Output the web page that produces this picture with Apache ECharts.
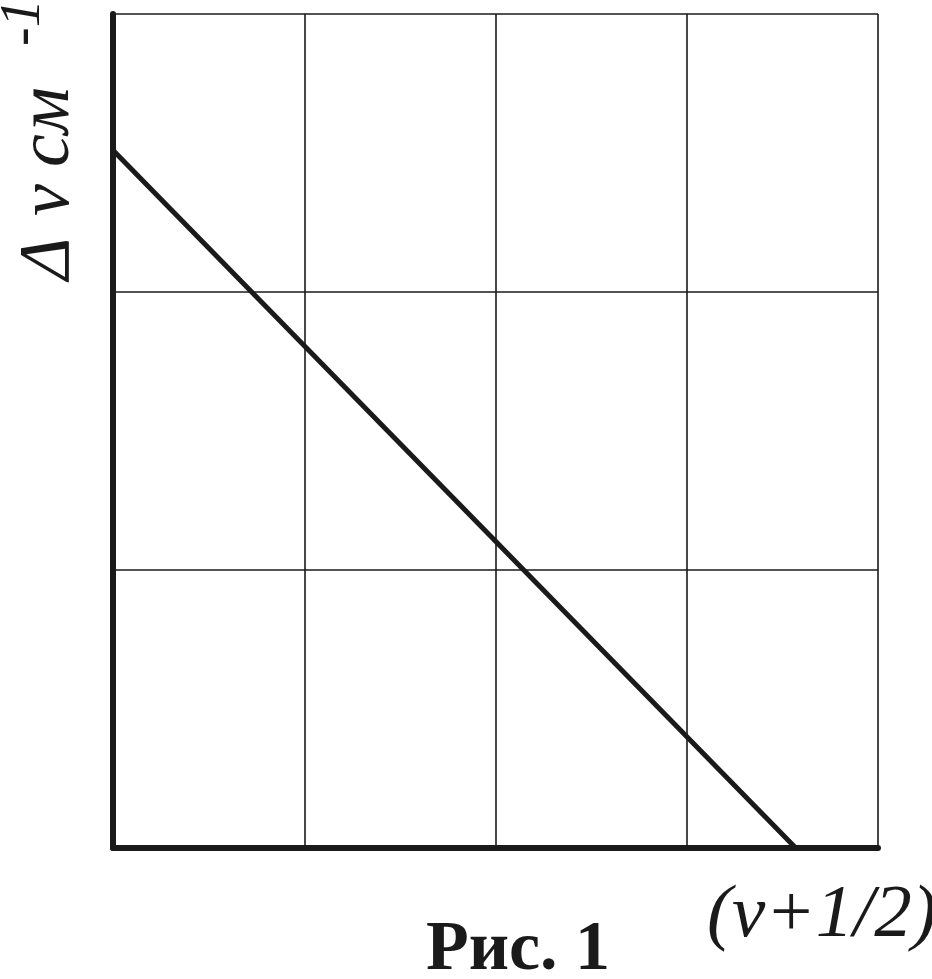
<!DOCTYPE html>
<html>
<head>
<meta charset="utf-8">
<script src="https://cdn.jsdelivr.net/npm/echarts@6/dist/echarts.min.js"></script>
<style>html,body{margin:0;padding:0;background:#fff;}#chart{width:932px;height:979px;}</style>
</head>
<body>
<div id="chart"></div>
<script>
// Data
const xRange = [0, 4];          // grid columns (arbitrary units of v+1/2)
const yRange = [0, 3];          // grid rows (arbitrary units of Δν)
const lineX = [0, 3.57];
const lineY = [2.51, 0];
const xLabel = '(v+1/2)';
const yLabelParts = ['Δ', 'ν', 'см'];
const ySup = '-1';
const caption = 'Рис. 1';

const lineData = lineX.map((x, i) => [x, lineY[i]]);
const serif = '"Liberation Serif", "DejaVu Serif", serif';

const chart = echarts.init(document.getElementById('chart'), null, {renderer: 'canvas'});
chart.setOption({
  backgroundColor: '#ffffff',
  animation: false,
  grid: {left: 113, top: 14, width: 765, height: 834},
  xAxis: {
    type: 'value', min: xRange[0], max: xRange[1], interval: 1,
    axisLine: {show: true, lineStyle: {color: '#1a1a1a', width: 6}},
    axisTick: {show: false}, axisLabel: {show: false},
    splitLine: {show: true, lineStyle: {color: '#1a1a1a', width: 1.6}}
  },
  yAxis: {
    type: 'value', min: yRange[0], max: yRange[1], interval: 1,
    axisLine: {show: true, lineStyle: {color: '#1a1a1a', width: 6}},
    axisTick: {show: false}, axisLabel: {show: false},
    splitLine: {show: true, lineStyle: {color: '#1a1a1a', width: 1.6}}
  },
  series: [{
    type: 'line', data: lineData, showSymbol: false, symbol: 'none',
    lineStyle: {color: '#1a1a1a', width: 5}, clip: false
  }],
  graphic: [
    {
      type: 'text', x: 707, y: 916,
      style: {text: xLabel, font: 'italic 75px ' + serif, fill: '#1a1a1a', align: 'left', verticalAlign: 'middle'}
    },
    {
      type: 'text', x: 518, y: 951,
      style: {text: caption, font: 'bold 70px ' + serif, fill: '#1a1a1a', align: 'center', verticalAlign: 'middle'}
    },
    {
      type: 'group', x: 49, y: 282, rotation: Math.PI / 2,
      children: [
        {type: 'text', x: 2, y: 0, style: {text: yLabelParts[0], font: 'italic 72px ' + serif, fill: '#1a1a1a', align: 'left', verticalAlign: 'middle'}},
        {type: 'text', x: 66, y: 0, style: {text: yLabelParts[1], font: 'italic 72px ' + serif, fill: '#1a1a1a', align: 'left', verticalAlign: 'middle'}},
        {type: 'text', x: 115, y: 0, style: {text: yLabelParts[2], font: 'italic 74px ' + serif, fill: '#1a1a1a', align: 'left', verticalAlign: 'middle'}},
        {type: 'text', x: 236, y: -25, style: {text: ySup, font: 'italic 56px ' + serif, fill: '#1a1a1a', align: 'left', verticalAlign: 'middle'}}
      ]
    }
  ]
});
</script>
</body>
</html>
